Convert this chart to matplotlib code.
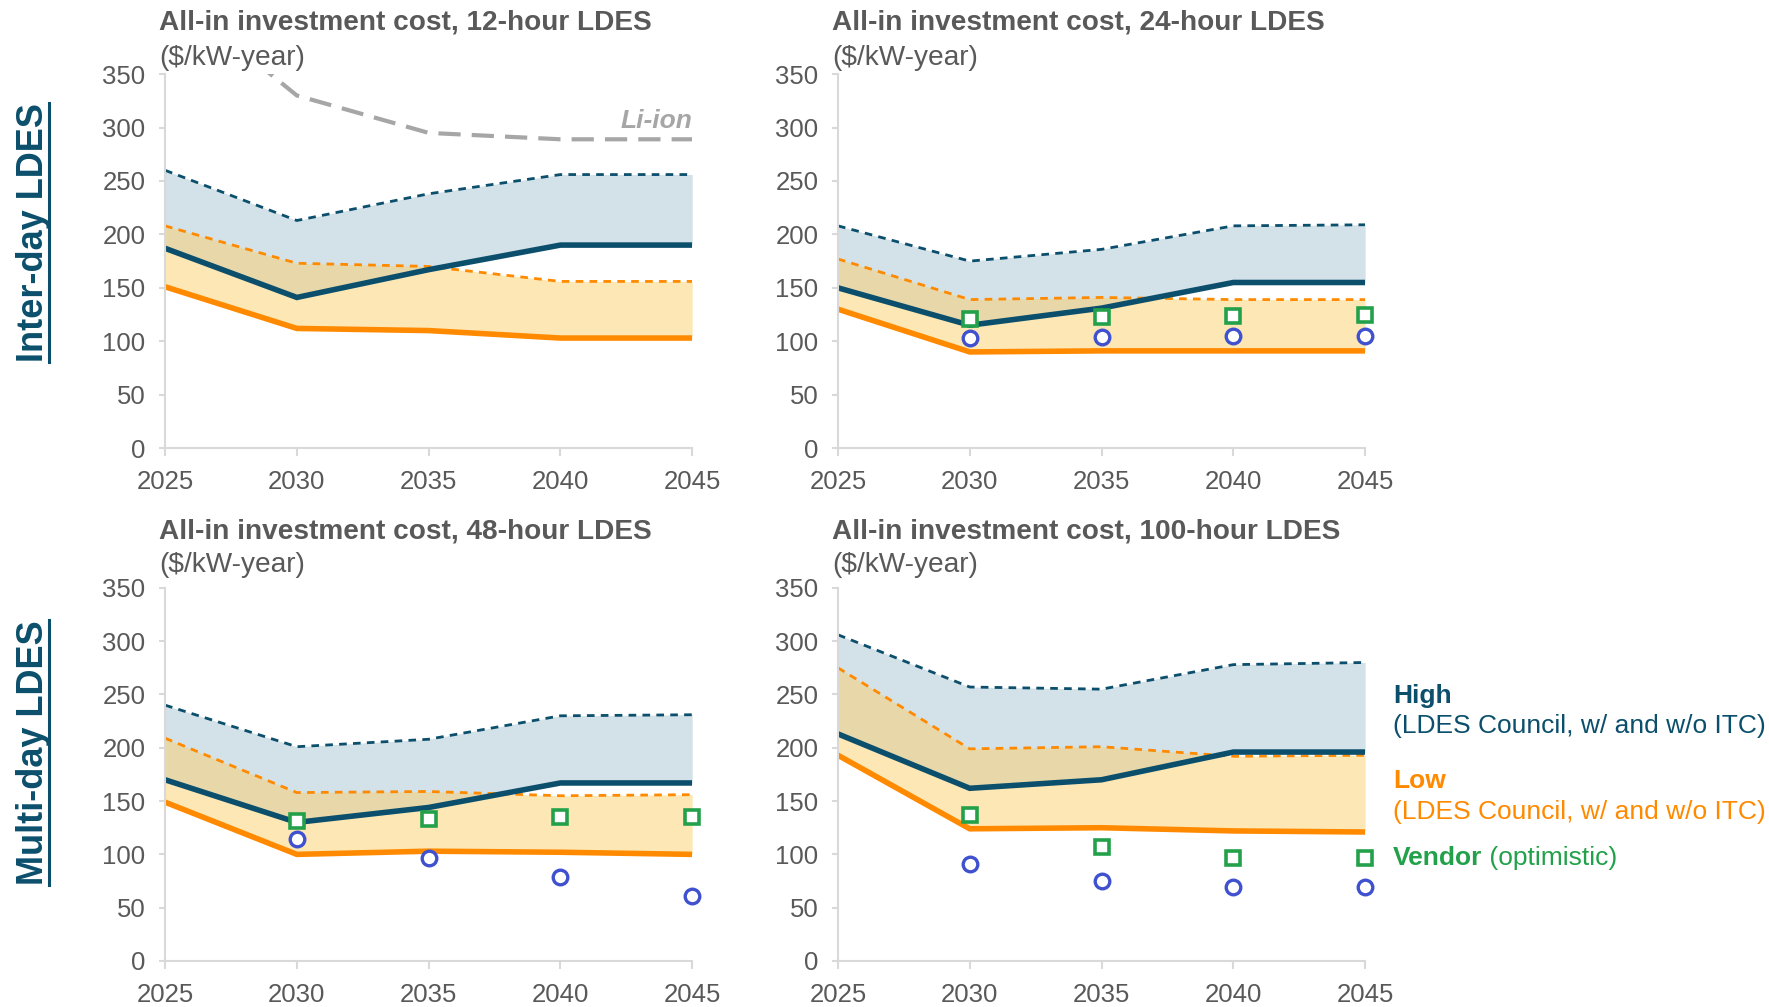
import matplotlib
matplotlib.use('Agg')
import matplotlib.pyplot as plt
from matplotlib.lines import Line2D

plt.rcParams['font.family'] = ['Liberation Sans', 'DejaVu Sans']
plt.rcParams['lines.scale_dashes'] = False

# data
years = [2025, 2030, 2035, 2040, 2045]
vendor_years = [2030, 2035, 2040, 2045]
titles = ['All-in investment cost, 12-hour LDES', 'All-in investment cost, 24-hour LDES',
          'All-in investment cost, 48-hour LDES', 'All-in investment cost, 100-hour LDES']

h12_high_dash = [260, 213, 238, 256, 256]
h12_high = [187, 141, 167, 190, 190]
h12_low_dash = [208, 173, 170, 156, 156]
h12_low = [151, 112, 110, 103, 103]
h12_liion = [430, 330, 295, 289, 289]

h24_high_dash = [208, 175, 186, 208, 209]
h24_high = [150, 115, 131, 155, 155]
h24_low_dash = [177, 139, 141, 139, 139]
h24_low = [130, 90, 91, 91, 91]
h24_vendor_sq = [121, 123, 124, 125]
h24_vendor_circ = [103, 104, 105, 105]

h48_high_dash = [240, 201, 208, 230, 231]
h48_high = [170, 130, 144, 167, 167]
h48_low_dash = [209, 158, 159, 155, 156]
h48_low = [149, 100, 103, 102, 100]
h48_vendor_sq = [131, 133, 135, 135]
h48_vendor_circ = [114, 97, 79, 61]

h100_high_dash = [306, 257, 255, 278, 280]
h100_high = [213, 162, 170, 196, 196]
h100_low_dash = [275, 199, 201, 192, 193]
h100_low = [193, 124, 125, 122, 121]
h100_vendor_sq = [137, 107, 97, 97]
h100_vendor_circ = [91, 75, 69, 69]

TEAL = '#0B4F6C'
ORANGE = '#FF8A00'
GREEN = '#22A14A'
BLUE = '#3F51CF'
GRAY = '#595959'
LGRAY = '#D9D9D9'

fig = plt.figure(figsize=(17.69, 10.07), dpi=100)
positions = [[0.0933, 0.555, 0.298, 0.3714], [0.4737, 0.555, 0.298, 0.3714],
             [0.0933, 0.0457, 0.298, 0.3705], [0.4737, 0.0457, 0.298, 0.3705]]
panels = [
    (h12_high_dash, h12_high, h12_low_dash, h12_low, None, None),
    (h24_high_dash, h24_high, h24_low_dash, h24_low, h24_vendor_sq, h24_vendor_circ),
    (h48_high_dash, h48_high, h48_low_dash, h48_low, h48_vendor_sq, h48_vendor_circ),
    (h100_high_dash, h100_high, h100_low_dash, h100_low, h100_vendor_sq, h100_vendor_circ),
]
title_pos = [(0.0899, 0.978, 0.942), (0.4705, 0.978, 0.942),
             (0.0899, 0.4725, 0.4385), (0.4705, 0.4725, 0.4385)]

for i, (pos, p) in enumerate(zip(positions, panels)):
    hd, hs, ld, ls, vsq, vci = p
    ax = fig.add_axes(pos)
    ax.fill_between(years, hs, hd, color='#D3E1E8', lw=0)
    ax.fill_between(years, ls, ld, color='#FDD16B', alpha=0.5, lw=0)
    ax.plot(years, hd, color=TEAL, lw=2, dashes=(5.5, 4.5))
    ax.plot(years, ld, color=ORANGE, lw=2, dashes=(5.5, 4.5))
    ax.plot(years, ls, color=ORANGE, lw=4, solid_joinstyle='miter')
    ax.plot(years, hs, color=TEAL, lw=4, solid_joinstyle='miter')
    if i == 0:
        ax.plot(years, h12_liion, color='#A6A6A6', lw=3, dashes=(16, 8))
        ax.text(2045, 306, 'Li-ion', ha='right', va='center', style='italic',
                weight='bold', color='#A6A6A6', fontsize=19)
    if vsq is not None:
        ax.plot(vendor_years, vci, 'o', ms=10.5, mfc='white', mec=BLUE, mew=2.4,
                ls='none', clip_on=False, zorder=5)
        ax.plot(vendor_years, vsq, 's', ms=10.5, mfc='white', mec=GREEN, mew=2.6,
                ls='none', clip_on=False, zorder=6)
    ax.set_xlim(2025, 2045)
    ax.set_ylim(0, 350)
    ax.set_xticks(years)
    ax.set_yticks(range(0, 351, 50))
    for s in ['top', 'right']:
        ax.spines[s].set_visible(False)
    for s in ['left', 'bottom']:
        ax.spines[s].set_color(LGRAY)
        ax.spines[s].set_linewidth(1.5)
    ax.tick_params(axis='x', colors=LGRAY, labelcolor=GRAY, labelsize=18.5,
                   length=6, width=1.5, pad=10)
    ax.tick_params(axis='y', colors=LGRAY, labelcolor=GRAY, labelsize=18.5,
                   length=4, width=1.5, pad=10)
    tx, ty1, ty2 = title_pos[i]
    fig.text(tx, ty1, titles[i], fontsize=20.2, weight='bold', color=GRAY, va='center')
    fig.text(tx, ty2, '($/kW-year)', fontsize=20.2, color=GRAY, va='center')

# row labels with underline
row1 = fig.text(0.0192, 0.769, 'Inter-day LDES', rotation=90, fontsize=26,
                weight='bold', color=TEAL, ha='center', va='center')
row2 = fig.text(0.0192, 0.253, 'Multi-day LDES', rotation=90, fontsize=26,
                weight='bold', color=TEAL, ha='center', va='center')

# legend text on the right
lx = 0.7875
fig.text(lx, 0.309, 'High', fontsize=19, weight='bold', color=TEAL, va='center')
fig.text(lx, 0.279, '(LDES Council, w/ and w/o ITC)', fontsize=19, color=TEAL, va='center')
fig.text(lx, 0.2245, 'Low', fontsize=19, weight='bold', color=ORANGE, va='center')
fig.text(lx, 0.1936, '(LDES Council, w/ and w/o ITC)', fontsize=19, color=ORANGE, va='center')
vt = fig.text(lx, 0.148, 'Vendor', fontsize=19, weight='bold', color=GREEN, va='center')
opt = fig.text(0, 0.148, ' (optimistic)', fontsize=19, color=GREEN, va='center')
fig.canvas.draw()
r = fig.canvas.get_renderer()
inv = fig.transFigure.inverted()
vb = vt.get_window_extent(r).transformed(inv)
opt.set_position((vb.x1, 0.148))

for t in (row1, row2):
    bb = t.get_window_extent(r).transformed(inv)
    ux = bb.x1 - 2.0 / 1769
    fig.add_artist(Line2D([ux, ux], [bb.y0, bb.y1], transform=fig.transFigure,
                          color=TEAL, lw=2.2))

fig.savefig('out.png', dpi=100)
